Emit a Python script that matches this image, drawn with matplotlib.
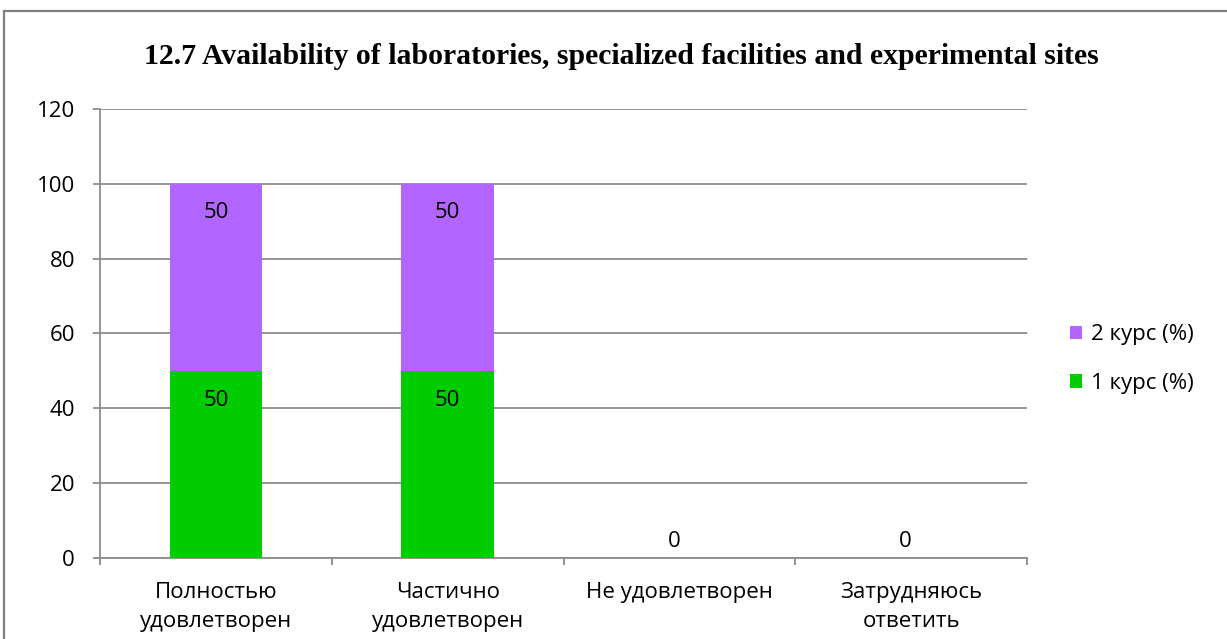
import numpy as np
import matplotlib
matplotlib.use('Agg')
import matplotlib.pyplot as plt
from matplotlib.patches import Rectangle

categories = ['Полностью\nудовлетворен', 'Частично\nудовлетворен', 'Не удовлетворен', 'Затрудняюсь\nответить']
course1 = [50, 50, 0, 0]
course2 = [50, 50, 0, 0]
series_names = ['1 курс (%)', '2 курс (%)']
title = '12.7 Availability of laboratories, specialized facilities and experimental sites'

plt.rcParams['font.family'] = ['Open Sans', 'DejaVu Sans']
grid_col = '#8c8c8c'
fs = 16

fig = plt.figure(figsize=(12.27, 6.39), dpi=100)
ax = fig.add_axes([100 / 1227, 1 - 558 / 639, 927 / 1227, 449 / 639])

# outer chart frame
fig.patches.append(Rectangle((4 / 1227, -0.1), 1.2, 1 - 11 / 639 + 0.1, transform=fig.transFigure,
                             fill=False, edgecolor='#7f7f7f', lw=1.6, clip_on=False))

x = np.arange(len(categories))
w = 0.4
b1 = ax.bar(x, course1, w, color='#00cc00', label=series_names[0], zorder=3)
b2 = ax.bar(x, course2, w, bottom=course1, color='#b266ff', label=series_names[1], zorder=3)

# data labels
for i in range(len(x)):
    if course1[i] + course2[i] == 0:
        ax.annotate('0', (x[i], 0), xytext=(-4, 12), textcoords='offset points',
                    ha='center', va='center', fontsize=fs)
        continue
    ax.annotate(str(course1[i]), (x[i], course1[i]), xytext=(0, -21), textcoords='offset points',
                ha='center', va='center', fontsize=fs, zorder=4)
    ax.annotate(str(course2[i]), (x[i], course1[i] + course2[i]), xytext=(0, -21),
                textcoords='offset points', ha='center', va='center', fontsize=fs, zorder=4)

ax.set_xlim(-0.5, len(categories) - 0.5)
ax.set_ylim(0, 120)
ax.set_yticks(range(0, 121, 20))
ax.yaxis.grid(True, color=grid_col, lw=1.3, zorder=0)
ax.tick_params(axis='y', length=5, color=grid_col, width=1.3, pad=13, labelsize=fs)

ax.set_xticks(np.arange(-0.5, len(categories), 1))
ax.set_xticklabels([])
ax.tick_params(axis='x', which='major', length=5, color=grid_col, width=1.3)
ax.set_xticks(x, minor=True)
ax.set_xticklabels(categories, minor=True, fontsize=fs, linespacing=1.55)
ax.tick_params(axis='x', which='minor', length=0, pad=17)

for s in ['top', 'right']:
    ax.spines[s].set_visible(False)
for s in ['left', 'bottom']:
    ax.spines[s].set_color(grid_col)
    ax.spines[s].set_linewidth(1.3)

fig.text(621 / 1227, 1 - 57 / 639, title, ha='center', va='center',
         fontsize=21.4, fontweight='bold', family='Liberation Serif')

leg = ax.legend(handles=[b2, b1], loc='center left', bbox_to_anchor=(1.025, 0.443), frameon=False,
                fontsize=fs, handlelength=0.55, handleheight=0.55, handletextpad=0.4, labelspacing=1.25)

fig.savefig('out.png', dpi=100)
